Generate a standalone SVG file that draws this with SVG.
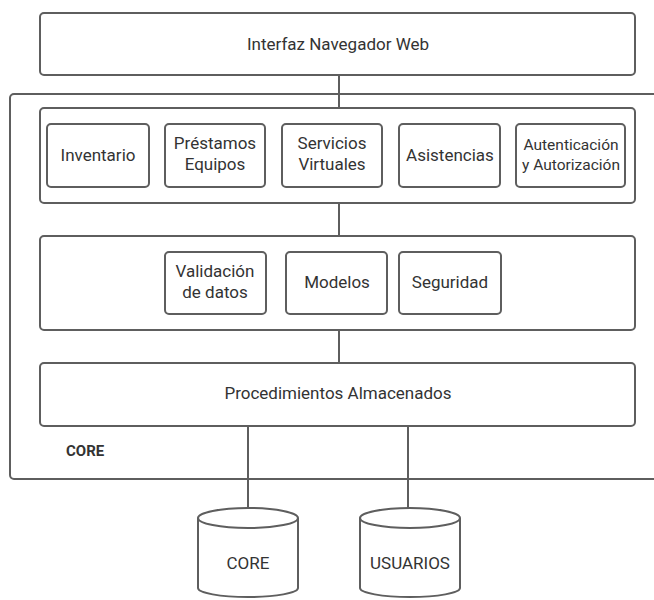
<svg xmlns="http://www.w3.org/2000/svg" width="654" height="600" viewBox="0 0 654 600">
<style>
.b{fill:#fff;stroke:#5e5e5e;stroke-width:2}
.t{font-family:Roboto,"Liberation Sans",sans-serif;font-size:17px;fill:#333;text-anchor:middle}
.c{stroke:#5e5e5e;stroke-width:2;fill:none}
</style>
<rect width="654" height="600" fill="#fff"/>
<g id="core-frame">
<path class="c" d="M660 94 H14 a4 4 0 0 0 -4 4 V475 a4 4 0 0 0 4 4 H660"/>
<text x="66" y="456" style="font-family:Roboto,'Liberation Sans',sans-serif;font-size:15px;font-weight:bold;fill:#333">CORE</text>
</g>
<g id="connectors">
<line class="c" x1="339" y1="75" x2="339" y2="108"/>
<line class="c" x1="339" y1="203" x2="339" y2="236"/>
<line class="c" x1="339" y1="330" x2="339" y2="363"/>
<line class="c" x1="248" y1="426" x2="248" y2="508"/>
<line class="c" x1="408" y1="426" x2="408" y2="508"/>
</g>
<g id="web"><rect class="b" x="40" y="13" width="595" height="62" rx="4"/><text class="t" x="338" y="50">Interfaz Navegador Web</text></g>
<g id="layer1"><rect class="b" x="40" y="108" width="595" height="95" rx="4"/></g>
<g id="inventario"><rect class="b" x="47" y="124" width="102" height="63" rx="4"/><text class="t" x="98" y="161">Inventario</text></g>
<g id="prestamos"><rect class="b" x="165" y="124" width="100" height="63" rx="4"/><text class="t" x="215" y="149">Préstamos</text><text class="t" x="215" y="170">Equipos</text></g>
<g id="servicios"><rect class="b" x="282" y="124" width="100" height="63" rx="4"/><text class="t" x="332" y="149">Servicios</text><text class="t" x="332" y="170">Virtuales</text></g>
<g id="asistencias"><rect class="b" x="399" y="124" width="101" height="63" rx="4"/><text class="t" x="450" y="161">Asistencias</text></g>
<g id="autenticacion"><rect class="b" x="516" y="124" width="109" height="63" rx="4"/><text class="t" x="571" y="150" style="font-size:15.5px">Autenticación</text><text class="t" x="571" y="170" style="font-size:15.5px">y Autorización</text></g>
<g id="layer2"><rect class="b" x="40" y="236" width="595" height="94" rx="4"/></g>
<g id="validacion"><rect class="b" x="165" y="252" width="101" height="62" rx="4"/><text class="t" x="215" y="277">Validación</text><text class="t" x="215" y="298">de datos</text></g>
<g id="modelos"><rect class="b" x="286" y="252" width="101" height="62" rx="4"/><text class="t" x="337" y="288">Modelos</text></g>
<g id="seguridad"><rect class="b" x="399" y="252" width="102" height="62" rx="4"/><text class="t" x="450" y="288">Seguridad</text></g>
<g id="procedimientos"><rect class="b" x="40" y="363" width="595" height="63" rx="4"/><text class="t" x="338" y="399">Procedimientos Almacenados</text></g>
<g id="db-core">
<path class="b" d="M198 518 V588 A50 9 0 0 0 298 588 V518"/>
<ellipse class="b" cx="248" cy="518" rx="50" ry="10"/>
<text class="t" x="248" y="569">CORE</text>
</g>
<g id="db-usuarios">
<path class="b" d="M360 518 V588 A50 9 0 0 0 460 588 V518"/>
<ellipse class="b" cx="410" cy="518" rx="50" ry="10"/>
<text class="t" x="410" y="569">USUARIOS</text>
</g>
</svg>
